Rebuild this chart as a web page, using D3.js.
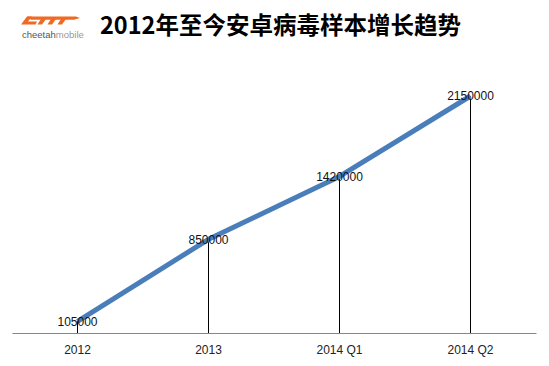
<!DOCTYPE html>
<html><head><meta charset="utf-8">
<script src="https://cdn.jsdelivr.net/npm/d3@7/dist/d3.min.js"></script>
<style>body{margin:0;background:#fff}svg{display:block}</style>
</head><body>
<script>
const categories = ["2012", "2013", "2014 Q1", "2014 Q2"];
const values = [105000, 850000, 1420000, 2150000];
const valueLabels = ["105000", "850000", "1420000", "2150000"];
const titleText = "2012年至今安卓病毒样本增长趋势";

const W = 549, H = 366;
const svg = d3.select("body").append("svg").attr("width", W).attr("height", H);
svg.append("rect").attr("width", W).attr("height", H).attr("fill", "#fff");

// logo
const logo = svg.append("g").attr("fill", "#f06a25");
logo.append("path").attr("d", "M27,16.5 L76,16.5 L80,18 L74,19.8 L31,19.8 Z");
logo.append("path").attr("d", "M27,16.5 L32,16.5 L28,21.5 L37,21.5 L35.5,24.5 L21,24.5 Z");
logo.append("path").attr("d", "M41,19 L46,19 L42,24.5 L37.5,24.5 Z");
logo.append("path").attr("d", "M51,19 L56,19 L52,24.5 L47.5,24.5 Z");
logo.append("path").attr("d", "M61,19 L66,19 L62,24.5 L57.5,24.5 Z");
const lt = svg.append("text").attr("x", 22).attr("y", 38)
  .attr("font-family", "Liberation Sans, Arial, sans-serif").attr("font-size", 9.5);
lt.append("tspan").attr("fill", "#555").text("cheetah");
lt.append("tspan").attr("fill", "#999").text("mobile");

svg.append("text").attr("x", 100).attr("y", 34)
  .attr("font-family", "Noto Sans CJK SC, sans-serif").attr("font-weight", "bold")
  .attr("font-size", 23.5).attr("fill", "#000").text(titleText);

const x = d3.scaleBand().domain(categories).range([12, 536]).padding(0);
const y = d3.scaleLinear().domain([0, 2150000]).range([333, 96]);
const cx = d => x(d) + x.bandwidth() / 2;

// drop lines
svg.append("g").selectAll("line").data(categories).join("line")
  .attr("x1", d => cx(d)).attr("x2", d => cx(d))
  .attr("y1", (d, i) => y(values[i])).attr("y2", y(0))
  .attr("stroke", "#000").attr("stroke-width", 1).attr("shape-rendering", "crispEdges");

// axis
const ax = svg.append("g").attr("transform", `translate(0,${y(0)})`)
  .call(d3.axisBottom(x).tickSize(0).tickPadding(12));
ax.select(".domain").attr("stroke", "#868686");
ax.selectAll("text").attr("font-family", "Liberation Sans, Arial, sans-serif")
  .attr("font-size", 12).attr("fill", "#222");

// line
const line = d3.line().x((d, i) => cx(categories[i])).y(d => y(d));
svg.append("path").datum(values).attr("d", line)
  .attr("fill", "none").attr("stroke", "#4a7ebb").attr("stroke-width", 5)
  .attr("stroke-linejoin", "round");

// data labels
svg.append("g").selectAll("text").data(values).join("text")
  .attr("x", (d, i) => cx(categories[i])).attr("y", d => y(d))
  .attr("dy", "0.35em").attr("text-anchor", "middle")
  .attr("font-family", "Liberation Sans, Arial, sans-serif").attr("font-size", 12)
  .attr("fill", "#111").text((d, i) => valueLabels[i]);
</script>
</body></html>
